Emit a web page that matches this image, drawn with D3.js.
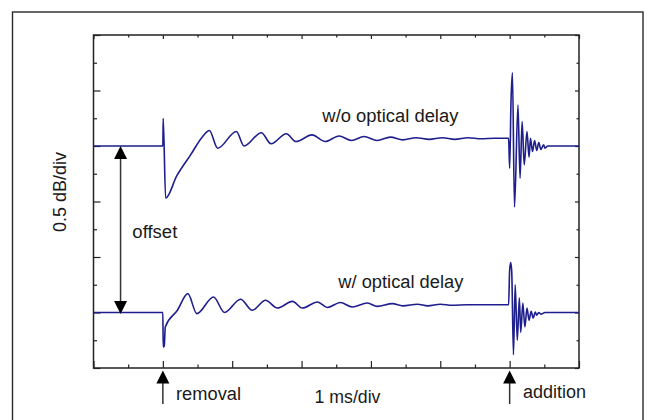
<!DOCTYPE html>
<html>
<head>
<meta charset="UTF-8">
<title>offset traces</title>
<style>
    body { margin: 0; background: #fff; }
    svg { display: block; }
    text { font-family: "Liberation Sans", Arial, sans-serif; fill: #1a1a1a; }
    .axis path.domain { display: none; }
    .axis line { stroke: #222; stroke-width: 1.2; }
    path.trace { fill: none; stroke: #1e1e8c; stroke-width: 1.6; }
    .arrow line { stroke: #333; stroke-width: 1.5; }
    .arrow path { fill: #000; }
</style>
</head>
<body>
<script src="https://d3js.org/d3.v7.min.js"></script>
<script>
    // time in ms, level in dB (0.5 dB per division)
    var upperTrace = [
        [0, 2.0], [1.0, 2.0], [1.005, 2.25], [1.04, 1.53], [1.2, 1.73], [1.4, 1.92],
        [1.58, 2.09], [1.67, 2.14], [1.79, 1.98], [2.06, 2.13], [2.17, 2.0],
        [2.42, 2.12], [2.56, 2.02], [2.78, 2.11], [2.92, 2.04], [3.15, 2.10],
        [3.34, 2.04], [3.54, 2.09], [3.72, 2.05], [3.90, 2.085], [4.09, 2.05],
        [4.28, 2.08], [4.46, 2.055], [4.65, 2.075], [4.84, 2.06], [5.03, 2.075],
        [5.21, 2.06], [5.40, 2.075], [5.59, 2.065], [5.78, 2.07], [5.96, 2.07],
        [5.985, 2.07], [6.0, 1.80], [6.02, 2.41], [6.04, 2.66], [6.07, 1.45],
        [6.12, 2.37], [6.15, 1.71], [6.18, 2.22], [6.21, 1.83], [6.25, 2.13],
        [6.28, 1.90], [6.30, 2.07], [6.33, 1.95], [6.36, 2.05], [6.39, 1.96],
        [6.42, 2.03], [6.45, 1.97], [6.49, 2.01], [6.51, 1.98], [6.55, 2.0],
        [6.61, 2.0], [7.0, 2.0]
    ];

    var lowerTrace = [
        [0, 0.5], [1.0, 0.5], [1.005, 0.19], [1.02, 0.20], [1.035, 0.37], [1.21, 0.52],
        [1.36, 0.67], [1.49, 0.49], [1.73, 0.64], [1.89, 0.50], [2.12, 0.62],
        [2.29, 0.52], [2.48, 0.61], [2.65, 0.54], [2.87, 0.60], [3.01, 0.54],
        [3.23, 0.595], [3.37, 0.545], [3.56, 0.59], [3.73, 0.55], [3.95, 0.585],
        [4.09, 0.555], [4.31, 0.58], [4.46, 0.56], [4.67, 0.575], [4.82, 0.56],
        [5.00, 0.575], [5.17, 0.565], [5.39, 0.57], [5.57, 0.57], [5.78, 0.57],
        [5.96, 0.57], [5.985, 0.57], [6.0, 0.88], [6.015, 0.95], [6.03, 0.87],
        [6.055, 0.12], [6.08, 0.75], [6.11, 0.25], [6.14, 0.63], [6.16, 0.32],
        [6.19, 0.585], [6.22, 0.37], [6.25, 0.54], [6.28, 0.43], [6.31, 0.51],
        [6.34, 0.45], [6.37, 0.505], [6.39, 0.475], [6.42, 0.5], [6.45, 0.485],
        [6.51, 0.5], [7.0, 0.5]
    ];

    var xMajorTicks = [0, 1, 2, 3, 4, 5, 6, 7];
    var xMinorTicks = [0.5, 1.5, 2.5, 3.5, 4.5, 5.5, 6.5];
    var yMajorTicks = [0, 0.5, 1, 1.5, 2, 2.5, 3];
    var yMinorTicks = [0.25, 0.75, 1.25, 1.75, 2.25, 2.75];

    var removalTime = 1, additionTime = 6;
    var offsetTime = 0.39, offsetFrom = 2.0, offsetTo = 0.5;

    var xLabel = "1 ms/div";
    var yLabel = "0.5 dB/div";

    var width = 647, height = 420;
    var plot = {left: 93.5, right: 579, top: 35, bottom: 368};

    var x = d3.scaleLinear().domain([0, 7]).range([plot.left, plot.right]);
    var y = d3.scaleLinear().domain([0, 3]).range([plot.bottom, plot.top]);

    var svg = d3.select("body").append("svg")
            .attr("width", width)
            .attr("height", height);

    // outer frame (bottom edge runs off the picture)
    svg.append("rect")
            .attr("x", 12.5).attr("y", 12)
            .attr("width", 630.5).attr("height", 440)
            .attr("fill", "none")
            .attr("stroke", "#2a2a2a")
            .attr("stroke-width", 1.4);

    function noLabels(axis) { return axis.tickFormat(""); }

    svg.append("g").attr("class", "axis")
            .attr("transform", "translate(0," + plot.bottom + ")")
            .call(noLabels(d3.axisBottom(x).tickValues(xMajorTicks).tickSize(-7)));
    svg.append("g").attr("class", "axis")
            .attr("transform", "translate(0," + plot.bottom + ")")
            .call(noLabels(d3.axisBottom(x).tickValues(xMinorTicks).tickSize(-3.5)));
    svg.append("g").attr("class", "axis")
            .attr("transform", "translate(0," + plot.top + ")")
            .call(noLabels(d3.axisTop(x).tickValues(xMajorTicks).tickSize(-4)));
    svg.append("g").attr("class", "axis")
            .attr("transform", "translate(0," + plot.top + ")")
            .call(noLabels(d3.axisTop(x).tickValues(xMinorTicks).tickSize(-2.5)));
    svg.append("g").attr("class", "axis")
            .attr("transform", "translate(" + plot.left + ",0)")
            .call(noLabels(d3.axisLeft(y).tickValues(yMajorTicks).tickSize(-7)));
    svg.append("g").attr("class", "axis")
            .attr("transform", "translate(" + plot.left + ",0)")
            .call(noLabels(d3.axisLeft(y).tickValues(yMinorTicks).tickSize(-3.5)));
    svg.append("g").attr("class", "axis")
            .attr("transform", "translate(" + plot.right + ",0)")
            .call(noLabels(d3.axisRight(y).tickValues(yMajorTicks).tickSize(-4)));
    svg.append("g").attr("class", "axis")
            .attr("transform", "translate(" + plot.right + ",0)")
            .call(noLabels(d3.axisRight(y).tickValues(yMinorTicks).tickSize(-2.5)));

    // plot box
    svg.append("rect")
            .attr("x", x(0)).attr("y", y(3))
            .attr("width", x(7) - x(0)).attr("height", y(0) - y(3))
            .attr("fill", "none")
            .attr("stroke", "#222")
            .attr("stroke-width", 1.5);

    var line = d3.line()
            .x(function (d) { return x(d[0]); })
            .y(function (d) { return y(d[1]); })
            .curve(d3.curveMonotoneX);

    svg.append("path").attr("class", "trace").attr("d", line(upperTrace));
    svg.append("path").attr("class", "trace").attr("d", line(lowerTrace));

    // arrow heads: tip at (px, py), pointing up (dir = -1) or down (dir = 1)
    function head(px, py, dir) {
        var w = 6.5, l = 13;
        return "M" + px + "," + py +
               "L" + (px - w) + "," + (py - dir * l) +
               "L" + (px + w) + "," + (py - dir * l) + "Z";
    }

    var arrows = svg.append("g").attr("class", "arrow");

    // offset double arrow
    arrows.append("line")
            .attr("x1", x(offsetTime)).attr("x2", x(offsetTime))
            .attr("y1", y(offsetFrom) + 8).attr("y2", y(offsetTo) - 8);
    arrows.append("path").attr("d", head(x(offsetTime), y(offsetFrom), -1));
    arrows.append("path").attr("d", head(x(offsetTime), y(offsetTo) + 1.5, 1));

    // removal / addition arrows below the axis
    [removalTime, additionTime].forEach(function (t) {
        arrows.append("line")
                .attr("x1", x(t)).attr("x2", x(t))
                .attr("y1", plot.bottom + 10).attr("y2", 404);
        arrows.append("path").attr("d", head(x(t), plot.bottom + 2.5, -1));
    });

    function label(txt, px, py, len) {
        return svg.append("text")
                .attr("x", px).attr("y", py)
                .attr("font-size", 18)
                .attr("textLength", len)
                .attr("lengthAdjust", "spacingAndGlyphs")
                .text(txt);
    }

    label("w/o optical delay", x(3.30), y(2.216), 136);
    label("w/ optical delay", x(3.53), y(0.72), 125);
    label("offset", x(0.56), y(1.17), 45);
    label("removal", 176, 400, 65);
    label(xLabel, 314.5, 403, 66);
    label("addition", 523, 397.5, 63);

    svg.append("text")
            .attr("transform", "translate(66,192) rotate(-90)")
            .attr("text-anchor", "middle")
            .attr("font-size", 18)
            .attr("textLength", 80)
            .attr("lengthAdjust", "spacingAndGlyphs")
            .text(yLabel);
</script>
</body>
</html>
